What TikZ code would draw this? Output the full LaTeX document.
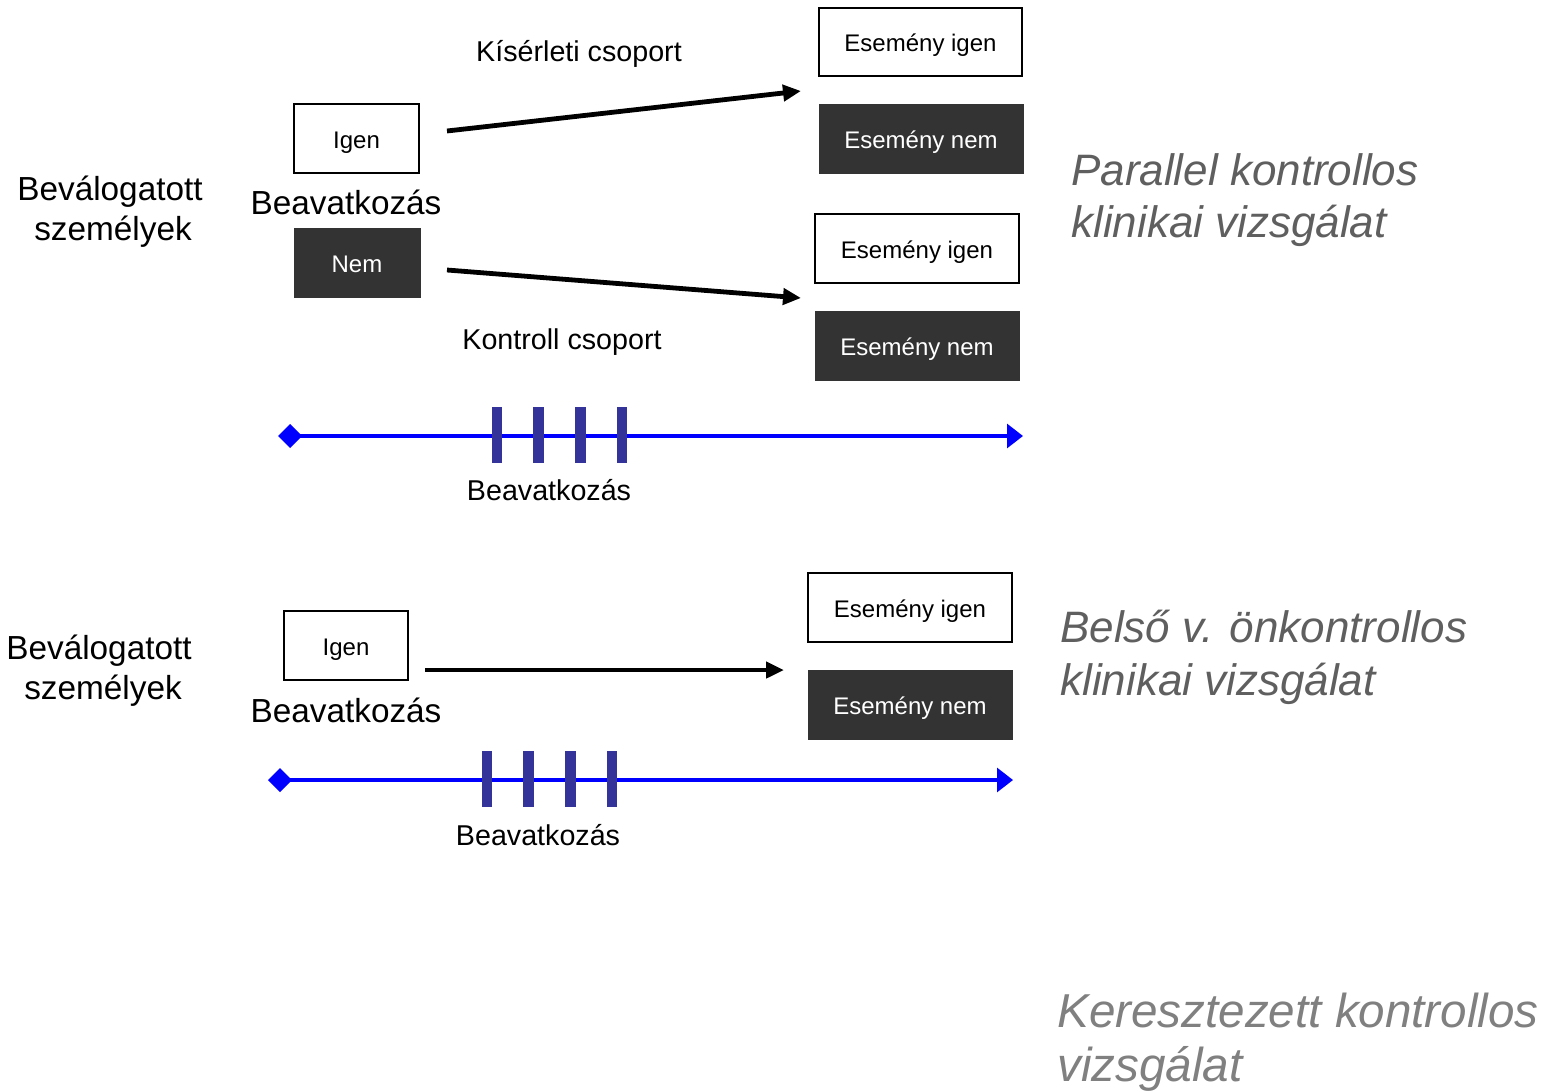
\documentclass[tikz,border=0pt]{standalone}
\usepackage{fontspec}
\setmainfont{Liberation Sans}
\usetikzlibrary{arrows.meta}
\definecolor{darkbox}{HTML}{333333}
\definecolor{tickc}{HTML}{333399}
\definecolor{titlea}{HTML}{5F5F5F}
\definecolor{titleb}{HTML}{808080}
\tikzset{
  whitebox/.style={draw=black, line width=1pt, fill=white, inner sep=0pt,
    font=\fontsize{18}{20}\selectfont, text height=1.45em, text depth=0em},
  darkboxstyle/.style={draw=darkbox, fill=darkbox, text=white, inner sep=0pt,
    font=\fontsize{18}{20}\selectfont, text height=1.45em, text depth=0em},
  grouplbl/.style={anchor=base, inner sep=0pt, font=\fontsize{21.5}{24}\selectfont},
  biglbl/.style={anchor=base, inner sep=0pt, font=\fontsize{25}{28}\selectfont},
  ticklbl/.style={anchor=base, inner sep=0pt, font=\fontsize{21.5}{24}\selectfont},
  titlelbl/.style={anchor=base west, inner sep=0pt, font=\fontsize{33}{36}\selectfont\itshape},
  flowarrow/.style={line width=3.6pt, -{Triangle[length=13.5pt,width=12pt]}},
  timeline/.style={draw=blue, line width=2.3pt,
    {Diamond[length=18pt,width=18pt,fill=blue]}-{Triangle[length=12pt,width=18pt,fill=blue]}},
  tickbar/.style={fill=tickc, draw=none}
}
\begin{document}
\begin{tikzpicture}[x=0.75pt,y=-0.75pt]
\useasboundingbox (0,0) rectangle (1551,1091);

% ===== Top section =====
\node[biglbl] (sel1a) at (110,201) {Beválogatott};
\node[biglbl] (sel1b) at (113,241) {személyek};

\node[whitebox, minimum width=125*0.75pt, minimum height=69*0.75pt] (igen1) at (356.5,138.5) {Igen};
\node[biglbl] (beav1) at (346,215) {Beavatkozás};
\node[darkboxstyle, minimum width=126*0.75pt, minimum height=69*0.75pt] (nem1) at (357,262.5) {Nem};

\node[whitebox, minimum width=203*0.75pt, minimum height=68*0.75pt] (ei1) at (920.5,42) {Esemény igen};
\node[darkboxstyle, minimum width=204*0.75pt, minimum height=69*0.75pt] (en1) at (921,138.5) {Esemény nem};
\node[whitebox, minimum width=204*0.75pt, minimum height=69*0.75pt] (ei2) at (917,248.5) {Esemény igen};
\node[darkboxstyle, minimum width=204*0.75pt, minimum height=69*0.75pt] (en2) at (917,345.5) {Esemény nem};

\node[grouplbl] (kis) at (579,62) {Kísérleti csoport};
\node[grouplbl] (kon) at (562,349) {Kontroll csoport};

\coordinate (a1s) at (447,131);
\coordinate (a1e) at (801,91);
\coordinate (a2s) at (447,270);
\coordinate (a2e) at (801,298);
\draw[flowarrow] (a1s) -- (a1e);
\draw[flowarrow] (a2s) -- (a2e);

\coordinate (t1s) at (278,436);
\coordinate (t1e) at (1023,436);
\draw[timeline] (t1s) -- (t1e);
\foreach \x in {497,538.5,580.5,622}{
  \fill[tickbar] (\x-5.2,407) rectangle (\x+5.2,463);
}
\node[ticklbl] (tl1) at (549,500) {Beavatkozás};

\node[titlelbl, text=titlea] (ttl1a) at (1071,186) {Parallel kontrollos};
\node[titlelbl, text=titlea] (ttl1b) at (1071,238) {klinikai vizsgálat};

% ===== Lower section =====
\node[biglbl] (sel2a) at (99,659) {Beválogatott};
\node[biglbl] (sel2b) at (103,699) {személyek};

\node[whitebox, minimum width=124*0.75pt, minimum height=69*0.75pt] (igen2) at (346,645.5) {Igen};
\node[biglbl] (beav2) at (346,722) {Beavatkozás};

\node[whitebox, minimum width=204*0.75pt, minimum height=69*0.75pt] (ei3) at (910,607.5) {Esemény igen};
\node[darkboxstyle, minimum width=204*0.75pt, minimum height=69*0.75pt] (en3) at (910,704.5) {Esemény nem};

\coordinate (a3s) at (425,670);
\coordinate (a3e) at (784,670);
\draw[flowarrow] (a3s) -- (a3e);

\coordinate (t2s) at (268,780);
\coordinate (t2e) at (1013,780);
\draw[timeline] (t2s) -- (t2e);
\foreach \x in {487,528.5,570.5,612}{
  \fill[tickbar] (\x-5.2,751) rectangle (\x+5.2,807);
}
\node[ticklbl] (tl2) at (538,845) {Beavatkozás};

\node[titlelbl, text=titlea] (ttl2a) at (1060,642) {Belső v. önkontrollos};
\node[titlelbl, text=titlea] (ttl2b) at (1060,695) {klinikai vizsgálat};

\node[titlelbl, text=titleb, font=\fontsize{35.7}{38}\selectfont\itshape] (ttl3a) at (1057,1027) {Keresztezett kontrollos};
\node[titlelbl, text=titleb, font=\fontsize{35.7}{38}\selectfont\itshape] (ttl3b) at (1057,1081) {vizsgálat};
\end{tikzpicture}
\end{document}
